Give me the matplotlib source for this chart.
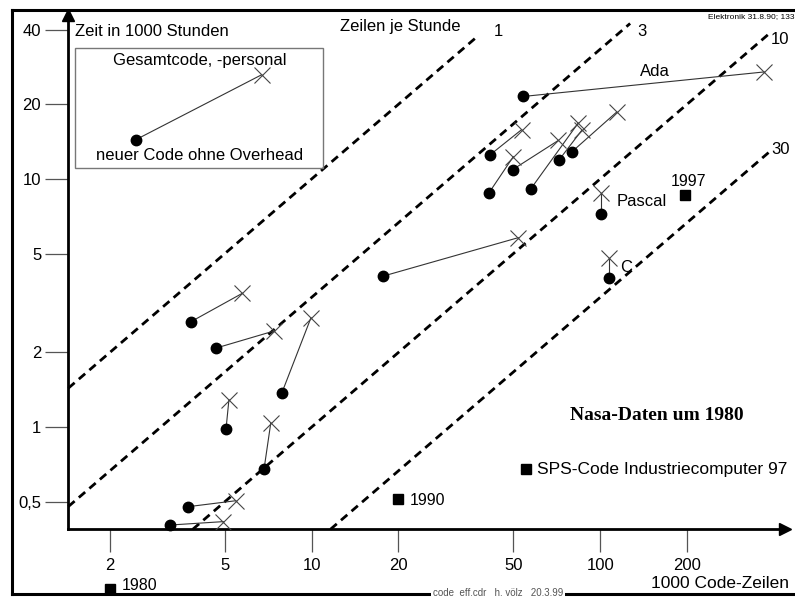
import matplotlib
matplotlib.use('Agg')
import matplotlib.pyplot as plt
from matplotlib.lines import Line2D
from matplotlib.patches import Rectangle

W, H = 795, 599

# NASA-Daten um 1980: neuer Code ohne Overhead (Punkt) -> Gesamtcode/-personal (Kreuz)
# x: 1000 Code-Zeilen, y: Zeit in 1000 Stunden
new_x = [54, 41.5, 49.7, 41.2, 57.4, 71.9, 80, 101, 107, 17.7, 3.82, 4.65, 7.88, 5.05, 6.84, 3.74, 3.23]
new_y = [21.5, 12.5, 10.9, 8.8, 9.1, 11.9, 12.9, 7.2, 4.0, 4.06, 2.66, 2.08, 1.37, 0.98, 0.676, 0.478, 0.403]
total_x = [370, 53.4, 71.6, 50, 83.9, 86.3, 114, 101, 107, 52, 5.75, 7.41, 9.95, 5.17, 7.22, 5.46, 4.94]
total_y = [27, 15.8, 14.3, 12.3, 16.8, 15.7, 18.6, 8.8, 4.8, 5.8, 3.46, 2.44, 2.76, 1.29, 1.04, 0.505, 0.416]

# einzelne Messungen (Quadrate)
sq_x = [2.0, 19.9, 55.3, 196]
sq_y = [0.2225, 0.513, 0.676, 8.62]
sq_labels = ['1980', '1990', 'SPS-Code Industriecomputer 97', '1997']

# Legendenbeispiel im Kasten
leg_x = [2.46, 6.71]
leg_y = [14.4, 26.3]

# Zeilen je Stunde
rates = [1, 3, 10, 30]
rate_end_x = [38, 127, 390, 390]

xticks = [2, 5, 10, 20, 50, 100, 200]
xticklabels = ['2', '5', '10', '20', '50', '100', '200']
yticks = [0.5, 1, 2, 5, 10, 20, 40]
yticklabels = ['0,5', '1', '2', '5', '10', '20', '40']

plt.rcParams['font.family'] = ['Liberation Sans', 'DejaVu Sans']


def fpx(x, y):
    """pixel position -> figure fraction"""
    return x / W, 1 - y / H


fig = plt.figure(figsize=(W / 100, H / 100), dpi=100)
l, t = fpx(68.3, 15)
r, b = fpx(785, 529.3)
ax = fig.add_axes([l, b, r - l, t - b])
ax.set_xscale('log')
ax.set_yscale('log')
xlo, xhi = 1.435, 437
ylo, yhi = 0.3874, 45.8
ax.set_xlim(xlo, xhi)
ax.set_ylim(ylo, yhi)

for s in ['top', 'right']:
    ax.spines[s].set_visible(False)
for s in ['left', 'bottom']:
    ax.spines[s].set_linewidth(2)
ax.plot(1, 0, '>k', ms=8, transform=ax.transAxes, clip_on=False)
ax.plot(0, 1, '^k', ms=8, transform=ax.transAxes, clip_on=False)

ax.minorticks_off()
ax.set_xticks(xticks, xticklabels)
ax.set_yticks(yticks, yticklabels)
ax.tick_params(axis='both', direction='out', length=16.5, width=0.9,
               color='#555555', labelsize=12, pad=4)
ax.tick_params(axis='y', pad=3)

# Linien konstanter Produktivitaet
for k, xe in zip(rates, rate_end_x):
    xs = max(xlo, ylo * k)
    ax.plot([xs, xe], [xs / k, xe / k], color='black', lw=2,
            linestyle=(0, (3, 2)), clip_on=False)

# Paare
for nx, ny, tx, ty in zip(new_x, new_y, total_x, total_y):
    ax.plot([nx, tx], [ny, ty], color='#333333', lw=0.8, zorder=3)
ax.plot(total_x, total_y, 'x', color='#444444', ms=11, mew=0.8, zorder=4)
ax.plot(new_x, new_y, 'o', color='black', ms=7.5, zorder=5, clip_on=False)

# Quadrate
ax.plot(sq_x, sq_y, 's', color='black', ms=6.5, clip_on=False, zorder=5)
offs = [(12, 4), (12, -1), (11, 0), (-14, 13)]
for x, y, lab, o in zip(sq_x, sq_y, sq_labels, offs):
    ax.annotate(lab, (x, y), xytext=o, textcoords='offset pixels',
                ha='left', va='center', fontsize=12.5 if lab.startswith('SPS') else 11.5,
                annotation_clip=False)

# Legendenkasten
x0, y0 = fpx(75, 168.3)
x1, y1 = fpx(322.7, 48.3)
fig.add_artist(Rectangle((x0, y0), x1 - x0, y1 - y0, transform=fig.transFigure,
                         fill=False, edgecolor='#777777', lw=1))
ax.plot(leg_x, leg_y, color='#333333', lw=0.8)
ax.plot(leg_x[1], leg_y[1], 'x', color='#444444', ms=11, mew=0.8)
ax.plot(leg_x[0], leg_y[0], 'o', color='black', ms=7.5)
fig.text(*fpx(200, 60), 'Gesamtcode, -personal', ha='center', va='center', fontsize=12)
fig.text(*fpx(200, 155), 'neuer Code ohne Overhead', ha='center', va='center', fontsize=12)

# Beschriftungen
fig.text(*fpx(75, 32), 'Zeit in 1000 Stunden', ha='left', va='center', fontsize=12)
fig.text(*fpx(340, 27), 'Zeilen je Stunde', ha='left', va='center', fontsize=12)
fig.text(*fpx(498, 31), '1', ha='center', va='center', fontsize=12)
fig.text(*fpx(642, 32), '3', ha='center', va='center', fontsize=12)
fig.text(*fpx(780, 40), '10', ha='center', va='center', fontsize=12)
fig.text(*fpx(781, 149), '30', ha='center', va='center', fontsize=12)
fig.text(*fpx(655, 72), 'Ada', ha='center', va='center', fontsize=12)
fig.text(*fpx(617, 202), 'Pascal', ha='left', va='center', fontsize=12)
fig.text(*fpx(620, 267), 'C', ha='left', va='center', fontsize=12)
fig.text(*fpx(789, 583), '1000 Code-Zeilen', ha='right', va='center', fontsize=12.5)
fig.text(*fpx(657, 415), 'Nasa-Daten um 1980', ha='center', va='center', fontsize=14,
         family='Liberation Serif', weight='bold')
fig.text(*fpx(794, 17), 'Elektronik 31.8.90; 133', ha='right', va='center', fontsize=6)

# Rahmen
lw_frame = 2.2
fig.add_artist(Line2D([11.7 / W, 1], [1 - 10 / H] * 2, transform=fig.transFigure,
                      color='black', lw=lw_frame))
fig.add_artist(Line2D([11.7 / W] * 2, [1 - 10 / H, 1 - 594 / H], transform=fig.transFigure,
                      color='black', lw=lw_frame))
fig.add_artist(Line2D([11.7 / W, 1], [1 - 594 / H] * 2, transform=fig.transFigure,
                      color='black', lw=lw_frame))
fig.text(*fpx(498, 593), 'code  eff.cdr   h. völz   20.3.99', ha='center', va='center',
         fontsize=7, color='#555555',
         bbox=dict(facecolor='white', edgecolor='none', pad=1.5))

fig.savefig('out.png', dpi=100)
